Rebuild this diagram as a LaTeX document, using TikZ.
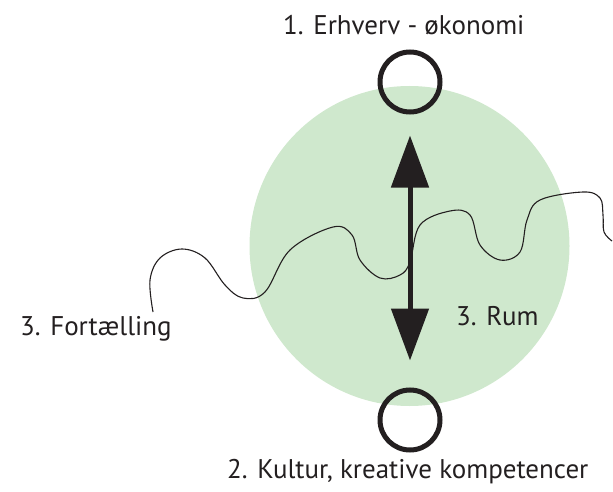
\documentclass[tikz,border=0pt]{standalone}
\usepackage{fontspec}
\setmainfont{PT Sans}
\usetikzlibrary{arrows.meta}
\definecolor{ink}{RGB}{35,31,32}
\definecolor{paleGreen}{RGB}{207,232,205}
\begin{document}
\begin{tikzpicture}[x=1pt,y=-1pt,
  label/.style={font=\fontsize{27}{31}\selectfont, text=ink, inner sep=0pt},
  ring/.style={circle, draw=ink, line width=5pt, minimum size=60pt, inner sep=0pt},
  wave/.style={draw=ink, line width=1.1pt}]
\useasboundingbox (0,0) rectangle (613,492);
\node[circle, fill=paleGreen, minimum size=320pt, inner sep=0pt] (field) at (409.5,246) {};
\draw[wave] plot[smooth, tension=0.6] coordinates {
  (153,312) (150,280) (160,258) (182,249) (205,258) (225,285) (243,298)
  (265,292) (290,250) (333,227) (352,235) (360,260) (380,278) (400,275)
  (410,262) (420,225) (450,211) (470,215) (480,245) (500,260) (520,252)
  (527,220) (540,200) (583,192) (600,198) (603,215) (604,232) (612,241)};
\node[ring] (top) at (410,82) {};
\node[ring] (bottom) at (410,420) {};
\draw[draw=ink, line width=5pt,
  {Triangle[width=37pt,length=52pt]}-{Triangle[width=37pt,length=52pt]},
  shorten <=21pt, shorten >=27pt] (top) -- (bottom);
\node[label, anchor=base west] (erhverv) at (283,35) {1. Erhverv - økonomi};
\node[label, anchor=base west] (fortaelling) at (20,335) {3. Fortælling};
\node[label, anchor=base west] (rum) at (456,325) {3. Rum};
\node[label, anchor=base west] (kultur) at (227,478) {2. Kultur, kreative kompetencer};
\end{tikzpicture}
\end{document}
